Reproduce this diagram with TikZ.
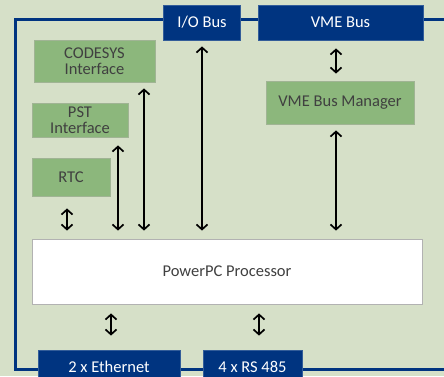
\documentclass[tikz,border=0pt]{standalone}
\usepackage{fontspec}
\setmainfont{Carlito}
\usetikzlibrary{arrows.meta}
\definecolor{bg}{RGB}{214,224,200}
\definecolor{navy}{RGB}{0,52,128}
\definecolor{gfill}{RGB}{140,183,124}
\definecolor{gdraw}{RGB}{160,180,148}
\definecolor{txt}{RGB}{64,64,64}
\tikzset{
  bluebox/.style={draw=navy!80!white, line width=0.8pt, fill=navy, text=white, inner sep=0pt, align=center,
    font=\fontsize{16.5}{17}\selectfont},
  greenbox/.style={draw=gdraw, line width=0.8pt, fill=gfill, text=txt, inner sep=0pt, align=center,
    font=\fontsize{16.5}{16.5}\selectfont},
  procbox/.style={draw=black!30, line width=0.8pt, fill=white, text=txt, inner sep=0pt,
    font=\fontsize{16.5}{17}\selectfont},
  arr/.style={draw=black, line width=1.7pt, {Straight Barb[length=5pt,width=11pt]}-{Straight Barb[length=5pt,width=11pt]}},
  frame/.style={draw=navy, line width=3pt}
}
\begin{document}
\begin{tikzpicture}[x=1pt,y=-1pt]
\useasboundingbox (0,0) rectangle (444,376);
\clip (0,0) rectangle (444,376);
\fill[bg] (0,0) rectangle (444,376);
% frame
\coordinate (ftr) at (446,19);
\coordinate (ftl) at (15,19);
\coordinate (fbl) at (15,369);
\coordinate (fbr) at (446,369);
\draw[frame] (ftr) -- (ftl) -- (fbl) -- (fbr);
% boxes
\node[bluebox, minimum width=77, minimum height=35] (iobus) at (202,22.5) {I/O Bus};
\node[bluebox, minimum width=165, minimum height=35] (vmebus) at (340.5,22.5) {VME Bus};
\node[greenbox, minimum width=121, minimum height=42] (codesys) at (94.5,61) {CODESYS\\Interface};
\node[greenbox, minimum width=96, minimum height=34] (pst) at (80,120) {PST\\Interface};
\node[greenbox, minimum width=78, minimum height=38] (rtc) at (71,177) {RTC};
\node[greenbox, minimum width=148, minimum height=43] (vmem) at (340,102.5) {VME Bus Manager};
\node[procbox, minimum width=390, minimum height=65] (ppc) at (227,271.5) {PowerPC Processor};
\node[bluebox, minimum width=142, minimum height=34] (eth) at (109,367) {2 x Ethernet};
\node[bluebox, minimum width=99, minimum height=34] (rs) at (252.5,367) {4 x RS 485};
% arrows
\draw[arr, shorten <=6pt, shorten >=8pt] (iobus.south) -- (iobus.south |- ppc.north);
\draw[arr, shorten <=6pt, shorten >=8pt] ([xshift=49.5pt]codesys.south) -- ([xshift=49.5pt]codesys.south |- ppc.north);
\draw[arr, shorten <=8pt, shorten >=8pt] ([xshift=38pt]pst.south) -- ([xshift=38pt]pst.south |- ppc.north);
\draw[arr, shorten <=12pt, shorten >=8pt] ([xshift=-4pt]rtc.south) -- ([xshift=-4pt]rtc.south |- ppc.north);
\draw[arr, shorten <=8pt, shorten >=7pt] ([xshift=-4.5pt]vmebus.south) -- ([xshift=-4.5pt]vmebus.south |- vmem.north);
\draw[arr, shorten <=6pt, shorten >=8pt] ([xshift=-4pt]vmem.south) -- ([xshift=-4pt]vmem.south |- ppc.north);
\draw[arr, shorten <=9pt, shorten >=14pt] (ppc.south -| eth.north) ++(2,0) coordinate (e1) (e1) -- (e1 |- eth.north);
\draw[arr, shorten <=9pt, shorten >=14pt] (ppc.south -| rs.north) ++(6.5,0) coordinate (r1) (r1) -- (r1 |- rs.north);
\end{tikzpicture}
\end{document}
